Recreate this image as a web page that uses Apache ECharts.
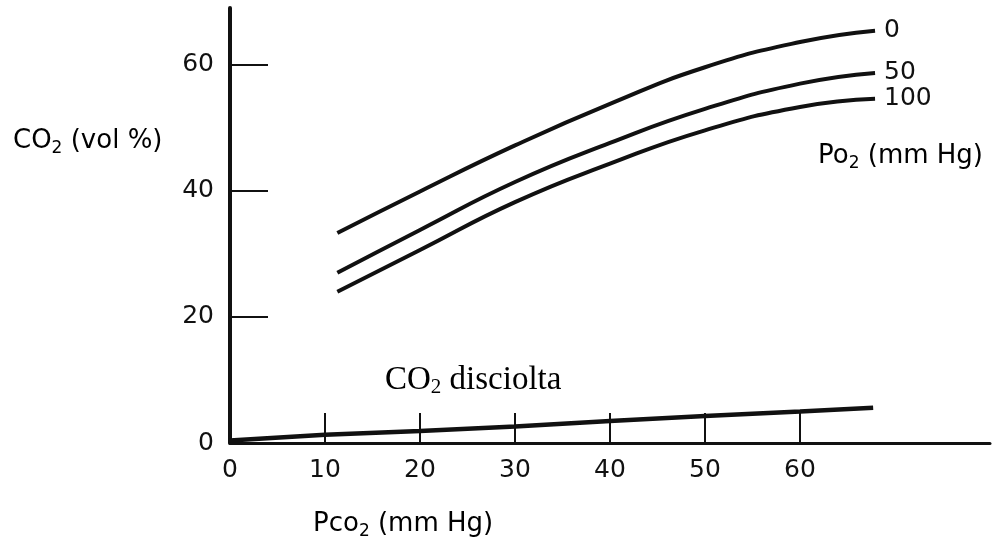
<!DOCTYPE html>
<html>
<head>
<meta charset="utf-8">
<script src="https://cdn.jsdelivr.net/npm/echarts@6/dist/echarts.min.js"></script>
<style>html,body{margin:0;padding:0;background:#fff}#c{width:993px;height:545px}</style>
</head>
<body>
<div id="c"></div>
<script>
// Data (x: Pco2 mm Hg, y: CO2 vol %)
const xTickValues = [10, 20, 30, 40, 50, 60];
const xLabelValues = [0, 10, 20, 30, 40, 50, 60];
const yTickValues = [0, 20, 40, 60];
const curvePo2_0 = [[11.3,33.3],[20,39.9],[30,47.2],[40,53.8],[50,59.6],[60,63.6],[67.9,65.4]];
const curvePo2_50 = [[11.3,27.0],[20,33.8],[30,41.4],[40,47.6],[50,53.0],[60,57.0],[67.9,58.7]];
const curvePo2_100 = [[11.3,24.0],[20,30.6],[30,38.2],[40,44.3],[50,49.6],[60,53.3],[67.9,54.6]];
const dissolved = [[0,0.4],[10,1.3],[20,1.9],[30,2.6],[40,3.5],[50,4.3],[60,5.0],[67.7,5.6]];
const curveNames = ['0', '50', '100'];

const ink = '#111';
const sans = 'DejaVu Sans';
const chart = echarts.init(document.getElementById('c'), null, {renderer: 'canvas'});

function curve(name, data, w) {
  return {
    name: name, type: 'line', data: data, smooth: 0.5, showSymbol: false, symbol: 'none',
    lineStyle: {color: ink, width: w}, silent: true,
    endLabel: name === '' ? {show: false} : {
      show: true, formatter: '{a}', color: ink, fontFamily: sans, fontSize: 25, distance: 9
    }
  };
}

const sub = {fontSize: 17, fontFamily: sans, color: ink, padding: [16, 0, 0, 0]};
const norm = {fontSize: 26, fontFamily: sans, color: ink};

chart.setOption({
  animation: false,
  backgroundColor: '#fff',
  grid: {left: 230, right: 3, top: 8, bottom: 102},
  xAxis: {
    type: 'value', min: 0, max: 80,
    axisLine: {show: true, lineStyle: {color: ink, width: 3}},
    axisTick: {show: true, inside: true, length: 30, customValues: xTickValues, lineStyle: {color: ink, width: 2}},
    axisLabel: {customValues: xLabelValues, color: ink, fontFamily: sans, fontSize: 25, margin: 15},
    splitLine: {show: false}
  },
  yAxis: {
    type: 'value', min: 0, max: 69,
    axisLine: {show: true, lineStyle: {color: ink, width: 4}},
    axisTick: {show: true, inside: true, length: 38, customValues: yTickValues, lineStyle: {color: ink, width: 2}},
    axisLabel: {customValues: yTickValues, color: ink, fontFamily: sans, fontSize: 25, margin: 16},
    splitLine: {show: false}
  },
  series: [
    curve(curveNames[0], curvePo2_0, 4),
    curve(curveNames[1], curvePo2_50, 4),
    curve(curveNames[2], curvePo2_100, 4),
    Object.assign(curve('', dissolved, 4.5), {smooth: false})
  ],
  graphic: [
    {type: 'text', left: 13, top: 128, style: {text: '{a|CO}{s|2}{a| (vol %)}', rich: {a: norm, s: sub}}},
    {type: 'text', left: 818, top: 143, style: {text: '{a|Po}{s|2}{a| (mm Hg)}', rich: {a: norm, s: sub}}},
    {type: 'text', left: 313, top: 511, style: {text: '{a|Pco}{s|2}{a| (mm Hg)}', rich: {a: norm, s: sub}}},
    {type: 'text', left: 385, top: 364, style: {text: '{a|CO}{s|2}{a| disciolta}', rich: {
      a: {fontSize: 33, fontFamily: 'Liberation Serif', color: ink},
      s: {fontSize: 21, fontFamily: 'Liberation Serif', color: ink, padding: [14, 0, 0, 0]}
    }}}
  ]
});
</script>
</body>
</html>
